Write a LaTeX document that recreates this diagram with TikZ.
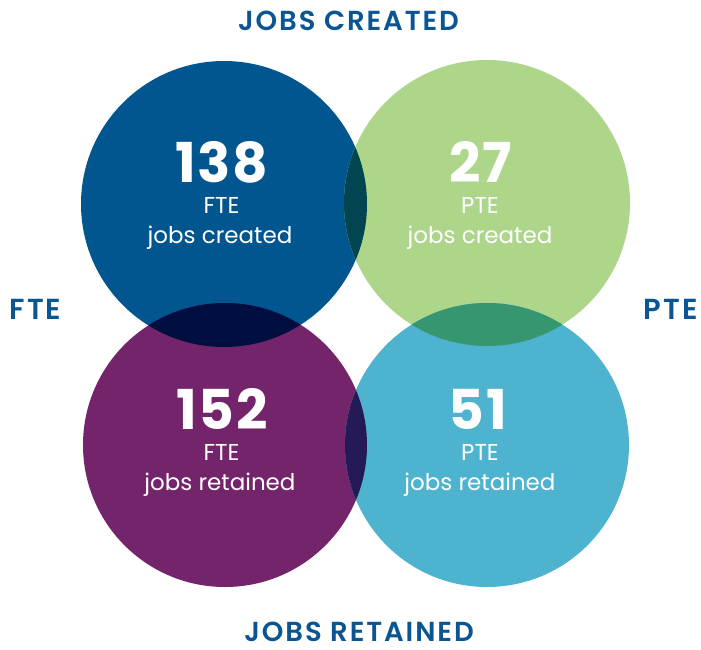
\documentclass[tikz,border=0pt]{standalone}
\usepackage{fontspec}
\setmainfont{Poppins}
\newfontfamily\headfont{Poppins}[UprightFont={* Medium}, BoldFont={* SemiBold}, LetterSpace=7]
\newfontfamily\numfont{Poppins}[UprightFont={* Bold}, LetterSpace=3]
\definecolor{cblue}{HTML}{02568F}
\definecolor{cgreen}{HTML}{ADD68A}
\definecolor{cpurple}{HTML}{73246B}
\definecolor{ccyan}{HTML}{4EB3CF}
\definecolor{obg}{HTML}{004550}
\definecolor{obp}{HTML}{000E40}
\definecolor{ogc}{HTML}{35966F}
\definecolor{opc}{HTML}{231A57}
\definecolor{headblue}{HTML}{0A5592}
\tikzset{
  numtext/.style={text=white, font=\numfont\fontsize{55}{55}\selectfont, anchor=base, inner sep=0pt, text height=38pt, text depth=0pt},
  kindtext/.style={text=white, font=\fontsize{23}{23}\selectfont, anchor=base, inner sep=0pt, text height=16pt, text depth=0pt},
  jobtext/.style={text=white, font=\fontsize{23}{23}\selectfont, anchor=base, inner sep=0pt, text height=16pt, text depth=5pt},
  headtext/.style={text=headblue, font=\headfont\bfseries\fontsize{27.5}{27.5}\selectfont, anchor=base, inner sep=0pt},
  sidetext/.style={text=headblue, font=\headfont\bfseries\fontsize{29}{29}\selectfont, anchor=base, inner sep=0pt}
}
\begin{document}
\begin{tikzpicture}[x=1pt,y=-1pt]
\useasboundingbox (0,0) rectangle (701,650);
\fill[white] (0,0) rectangle (701,650);
% circles
\fill[cblue]   (224,204) circle [radius=143];
\fill[cgreen]  (487,203) circle [radius=143];
\fill[cpurple] (225,445) circle [radius=142];
\fill[ccyan]   (487,445) circle [radius=142];
% overlaps
\begin{scope}
  \clip (224,204) circle [radius=143];
  \fill[obg] (487,203) circle [radius=143];
  \fill[obp] (225,445) circle [radius=142];
\end{scope}
\begin{scope}
  \clip (487,445) circle [radius=142];
  \fill[ogc] (487,203) circle [radius=143];
  \fill[opc] (225,445) circle [radius=142];
\end{scope}
% circle texts
\node[numtext] (n1) at (221.5,182) {138};
\node[kindtext] (k1) at (221.5,213) {FTE};
\node[jobtext] (j1) at (220,243) {jobs created};
\node[numtext] (n2) at (480.5,182) {27};
\node[kindtext] (k2) at (480,213) {PTE};
\node[jobtext] (j2) at (480,243) {jobs created};
\node[numtext] (n3) at (222,429) {152};
\node[kindtext] (k3) at (221.5,460) {FTE};
\node[jobtext] (j3) at (220,490) {jobs retained};
\node[numtext] (n4) at (478,429) {51};
\node[kindtext] (k4) at (480,460) {PTE};
\node[jobtext] (j4) at (480,490) {jobs retained};
% headings
\node[headtext] (hc) at (348.5,30.7) {JOBS CREATED};
\node[headtext] (hr) at (359,641.7) {JOBS RETAINED};
\node[sidetext] (hf) at (35.5,319) {FTE};
\node[sidetext] (hp) at (670.5,319) {PTE};
\end{tikzpicture}
\end{document}
